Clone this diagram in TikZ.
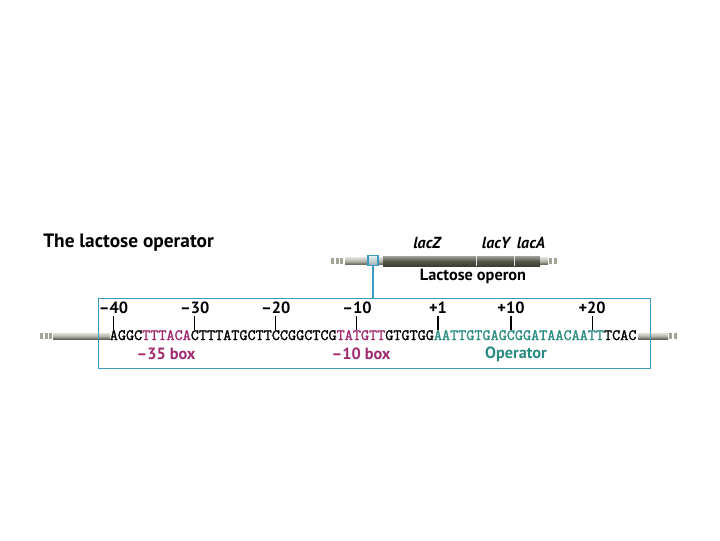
\documentclass[tikz,border=0pt]{standalone}
\usepackage{fontspec}
\setmainfont{PT Sans}
\newfontfamily\seqfont{Latin Modern Mono}[FakeBold=1.6]
\usetikzlibrary{positioning,calc}
\definecolor{opblue}{HTML}{3B9BC2}
\definecolor{boxmag}{HTML}{A12A6E}
\definecolor{opteal}{HTML}{2A8C80}
\definecolor{dnadark}{HTML}{55574A}
\definecolor{dnalight}{HTML}{A3A494}
\tikzset{
  lbl/.style={font=\bfseries\fontsize{12.2}{14}\selectfont, inner sep=0pt},
  title/.style={font=\bfseries\fontsize{14.5}{16}\selectfont, inner sep=0pt},
  gene/.style={font=\bfseries\itshape\fontsize{12}{14}\selectfont, inner sep=0pt},
  num/.style={lbl, anchor=base},
  seq/.style={font=\seqfont\fontsize{11.8}{13}\selectfont, inner sep=0pt},
  tick/.style={line width=0.8pt},
  link/.style={draw=opblue, line width=1.1pt},
  markbox/.style={draw=opblue, fill=opblue!25, fill opacity=0.6, line width=1pt,
               minimum size=7.5pt, inner sep=0pt},
  seqbox/.style={draw=opblue, line width=1.1pt, minimum width=414pt,
                 minimum height=52.5pt, inner sep=0pt},
  lightbar/.style={top color=dnalight!35, bottom color=dnalight!60!black,
                   middle color=dnalight!80!white},
  darkbar/.style={top color=dnadark!55, bottom color=dnadark!70!black,
                  middle color=dnadark},
}

\begin{document}
\begin{tikzpicture}[x=0.75pt, y=-0.75pt]
  \useasboundingbox (0,0) rectangle (720,540);
  \node[title, anchor=west] (ttl) at (43,243) {The lactose operator};

  % lac operon on the chromosome
  \foreach \x in {331,335.5,340}
    \fill[dnalight] (\x,258) rectangle ++(3,6);
  \shade[lightbar] (345,257.5) rectangle (383,264.5);
  \shade[darkbar] (383,256) rectangle (540,266);
  \draw[white!85!dnadark, line width=0.7pt] (476,256) -- (476,266) (514,256) -- (514,266);
  \shade[lightbar] (540,257.5) rectangle (548,264.5);
  \foreach \x in {549,553.5}
    \fill[dnalight] (\x,258) rectangle ++(3,6);
  \node[gene] (lz) at (427,243) {lacZ};
  \node[gene] (ly) at (496,243) {lacY};
  \node[gene] (la) at (531,243) {lacA};
  \node[lbl] (opn) at (473,276) {Lactose operon};

  % promoter region, enlarged
  \foreach \x in {40,44.5,49}
    \fill[dnalight] (\x,333) rectangle ++(3,6);
  \shade[lightbar] (53,333) rectangle (110,339);
  \shade[lightbar] (638,333) rectangle (668,339);
  \foreach \x in {669,673.5}
    \fill[dnalight] (\x,333) rectangle ++(3,6);

  \node[seq, anchor=base west] (dna) at (109.5,340)
    {AGGC\textcolor{boxmag}{TTTACA}CTTTATGCTTCCGGCTCG\textcolor{boxmag}{TATGTT}GTGTGG\textcolor{opteal}{AATTGTGAGCGGATAACAATT}TCAC};
  \foreach \i/\lab in {0/–40,10/–30,20/–20,30/–10,40/+1,49/+10,59/+20} {
    \coordinate (t\i) at ($(dna.base west)!{(\i+0.5)/65}!(dna.base east)$);
    \draw[tick] ([yshift=7.5pt]t\i) -- ([yshift=18pt]t\i);
    \node[num] (n\i) at ([yshift=20pt]t\i) {\lab};
  }
  \node[lbl, text=boxmag] (b35) at (166,354) {–35 box};
  \node[lbl, text=boxmag] (b10) at (361,354) {–10 box};
  \node[lbl, text=opteal] (opr) at (516,354) {Operator};

  \node[seqbox, anchor=north west] (box) at (98,298) {};
  \node[markbox] (mk) at (373,260.5) {};
  \draw[link] (mk) -- (mk |- box.north);
\end{tikzpicture}
\end{document}
